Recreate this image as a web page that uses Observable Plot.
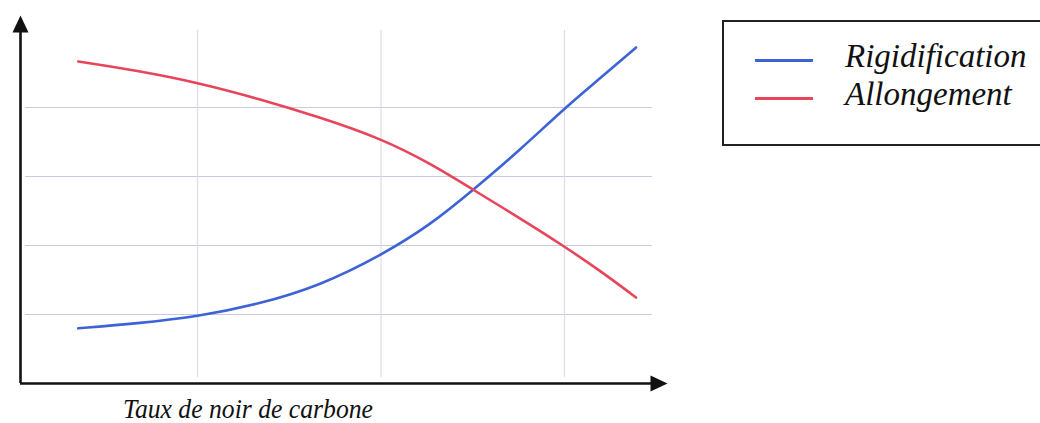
<!DOCTYPE html>
<html>
<head>
<meta charset="utf-8">
<script src="https://cdn.jsdelivr.net/npm/d3@7"></script>
<script src="https://cdn.jsdelivr.net/npm/@observablehq/plot@0.6"></script>
<style>
  html, body { margin: 0; padding: 0; background: #fff; overflow: hidden; }
  #wrap { position: relative; width: 1040px; height: 423px; }
  #legend { position: absolute; left: 722px; top: 20px; width: 340px; height: 122px;
            border: 2px solid #222; box-sizing: content-box; background: #fff; }
  .item { position: absolute; left: 31px; height: 36px; }
  .swatch { position: absolute; left: 0; top: 21px; width: 58px; height: 3px; }
  .lab { position: absolute; left: 90px; top: 0; white-space: nowrap;
         font-family: "Liberation Serif", "Times New Roman", serif; font-style: italic;
         font-size: 33px; line-height: 36px; color: #111; }
</style>
</head>
<body>
<div id="wrap"></div>
<script>
// ---- data ----
const seriesNames = ["Rigidification", "Allongement"];
const seriesColors = ["#3d63d4", "#e8445a"];
const xLabel = "Taux de noir de carbone";
const xValues = [0.35, 0.67, 1.0, 1.33, 1.67, 2.0, 2.27, 2.5, 2.76, 3.0, 3.2, 3.39];
const rigidification = [0.80, 0.87, 0.97, 1.145, 1.42, 1.855, 2.30, 2.80, 3.39, 3.99, 4.435, 4.87];
const allongement = [4.667, 4.536, 4.362, 4.13, 3.855, 3.551, 3.188, 2.812, 2.391, 1.986, 1.623, 1.246];
const xGrid = [1, 2, 3];
const yGrid = [1, 2, 3, 4];

const xDomain = [0.0354, 3.5613];
const yDomain = [0, 5.551];
const gridX = [0.063, 3.479];
const gridY = [0.087, 5.116];
const yAxisTop = 5.333;

const rows = [];
seriesNames.forEach((name, i) => {
  const vals = i === 0 ? rigidification : allongement;
  xValues.forEach((x, j) => rows.push({series: name, x, y: vals[j]}));
});

const arrowHead = {
  draw(ctx) {
    ctx.moveTo(0, 0);
    ctx.lineTo(-8, 17);
    ctx.lineTo(8, 17);
    ctx.closePath();
  }
};

const chart = Plot.plot({
  width: 1040,
  height: 423,
  marginLeft: 20,
  marginRight: 373,
  marginTop: 0,
  marginBottom: 40,
  x: {domain: xDomain, axis: null},
  y: {domain: yDomain, axis: null},
  color: {domain: seriesNames, range: seriesColors},
  marks: [
    Plot.ruleY(yGrid, {x1: gridX[0], x2: gridX[1], stroke: "#c9c9e4", strokeWidth: 1.2}),
    Plot.ruleX(xGrid, {y1: gridY[0], y2: gridY[1], stroke: "#dcdcec", strokeWidth: 1.2}),
    Plot.line(rows, {x: "x", y: "y", z: "series", stroke: "series", strokeWidth: 2.6, curve: "basis"}),
    Plot.ruleX([xDomain[0]], {y1: 0, y2: yAxisTop - 0.2, stroke: "#111", strokeWidth: 2.6}),
    Plot.ruleY([0], {x1: xDomain[0], x2: xDomain[1] - 0.08, stroke: "#111", strokeWidth: 2.6}),
    Plot.dot([{x: xDomain[0], y: yAxisTop}], {x: "x", y: "y", symbol: arrowHead, fill: "#111", stroke: null, r: 5}),
    Plot.dot([{x: xDomain[1], y: 0}], {x: "x", y: "y", symbol: arrowHead, fill: "#111", stroke: null, r: 5, rotate: 90}),
    Plot.text([xLabel], {x: () => 1.275, frameAnchor: "bottom", dy: 34, lineAnchor: "bottom",
      text: d => d, fontFamily: "Liberation Serif", fontStyle: "italic", fontSize: 27, fill: "#111"})
  ]
});

// slightly compress the axis label horizontally like the reference
chart.querySelectorAll('g[aria-label="text"] text').forEach(t => {
  t.setAttribute("textLength", 250);
  t.setAttribute("lengthAdjust", "spacingAndGlyphs");
});

const wrap = document.getElementById("wrap");
wrap.appendChild(chart);

const legend = document.createElement("div");
legend.id = "legend";
seriesNames.forEach((name, i) => {
  const item = document.createElement("div");
  item.className = "item";
  item.style.top = (16 + i * 38) + "px";
  const sw = document.createElement("div");
  sw.className = "swatch";
  sw.style.background = seriesColors[i];
  const lab = document.createElement("div");
  lab.className = "lab";
  lab.textContent = name;
  item.appendChild(sw);
  item.appendChild(lab);
  legend.appendChild(item);
});
wrap.appendChild(legend);
</script>
</body>
</html>
